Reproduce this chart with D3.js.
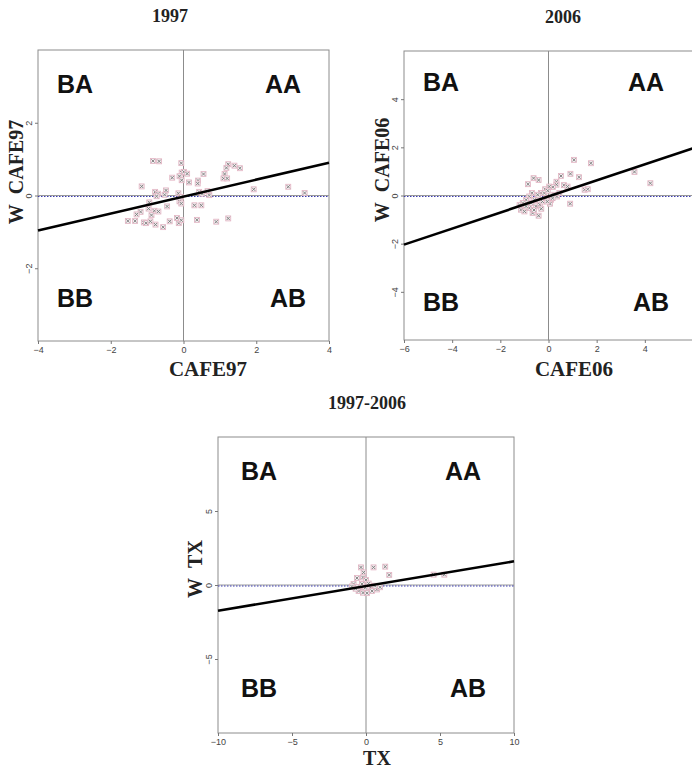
<!DOCTYPE html>
<html>
<head>
<meta charset="utf-8">
<script src="https://cdn.jsdelivr.net/npm/d3@7"></script>
<style>
  body { margin: 0; background: #fff; }
  svg { display: block; }
</style>
</head>
<body>
<svg id="chart" width="692" height="770"></svg>
<script>
// ---- data ----
const quadrants = ["BA", "AA", "BB", "AB"];

// 1997
const cafe97 = [-0.84,-0.67,-0.06,-0.05,0.01,0.1,-0.11,-0.31,-0.05,0.15,0.55,0.40,0.39,1.23,1.40,1.55,1.18,1.13,1.10,1.20,-1.15,1.93,2.88,3.33,-0.78,-0.70,-0.48,-0.52,-0.14,-0.07,-0.11,-0.06,0.43,0.51,0.71,0.66,-0.74,-0.94,-0.45,-0.96,-0.80,-0.69,0.30,0.49,-1.18,-1.29,-1.33,-1.53,-1.09,-1.03,-0.88,-0.77,-0.56,-0.38,-0.18,-0.13,-0.06,0.37,0.90,1.23,-0.91];
const wCafe97 = [0.95,0.94,0.89,0.63,0.65,0.6,0.53,0.49,0.42,0.36,0.59,0.41,0.33,0.86,0.82,0.75,0.76,0.59,0.47,0.47,0.25,0.17,0.24,0.07,0.10,0.05,0.14,0.02,0.06,-0.04,-0.16,-0.22,0.10,0.05,0.01,0.12,-0.02,-0.19,-0.30,-0.36,-0.42,-0.44,-0.27,-0.27,-0.45,-0.52,-0.70,-0.70,-0.74,-0.76,-0.54,-0.80,-0.87,-0.71,-0.62,-0.76,-0.68,-0.67,-0.72,-0.63,-0.71];
const fit97 = [[-4, -0.96], [4, 0.90]];
const xTicks97 = [-4, -2, 0, 2, 4];
const yTicks97 = [-2, 0, 2];

// 2006
const cafe06 = [1.06,1.76,3.57,4.23,0.52,0.91,1.27,-0.62,-0.41,-0.85,0.33,0.33,0.18,0.03,-0.14,0.64,0.79,1.50,1.63,0.90,-0.31,-0.45,-0.69,-0.80,-0.93,-1.07,-1.14,-1.00,-0.80,-0.66,-0.41,-0.52,-0.36,-0.25,-0.11,0.10,0.06,0.24,0.35,0.17,-0.93,-0.72,-0.58,-0.17,-0.03,-1.20,-0.60,-0.30,0.45,-0.05];
const wCafe06 = [1.48,1.34,0.98,0.51,0.81,0.90,0.76,0.72,0.64,0.47,0.57,0.45,0.35,0.37,0.26,0.43,0.37,0.24,0.26,-0.34,0.10,0.03,0.10,-0.04,-0.18,-0.31,-0.59,-0.66,-0.52,-0.73,-0.84,-0.45,-0.38,-0.25,-0.11,-0.18,-0.34,0.03,-0.04,-0.11,-0.45,-0.31,-0.18,0.10,0.20,-0.40,-0.60,-0.55,0.10,-0.25];
const fit06 = [[-6, -2.04], [6, 1.96]];
const xTicks06 = [-6, -4, -2, 0, 2, 4];
const yTicks06 = [-4, -2, 0, 2, 4];

// 1997-2006
const tx = [-0.34,0.51,1.30,1.57,-0.16,-0.20,-0.61,0,4.57,5.29,-0.84,-0.61,-0.39,-0.16,0.07,0.29,0.52,0.18,-0.27,-0.05,0.74,-0.50,0.41,-0.20,0.07,-0.95,0.95,-0.70,0.60];
const wTx = [1.19,1.19,1.24,0.68,0.85,0.51,0.47,0.34,0.70,0.70,0.07,-0.14,-0.30,-0.41,-0.36,-0.18,-0.07,0.10,0.07,-0.18,-0.30,-0.41,-0.41,-0.52,-0.55,-0.10,-0.15,-0.25,-0.05];
const fitTx = [[-10, -1.74], [10, 1.60]];
const xTicksTx = [-10, -5, 0, 5, 10];
const yTicksTx = [-5, 0, 5];

const svg = d3.select("#chart");

function drawPanel(p) {
  const g = svg.append("g").attr("transform", `translate(${p.left},${p.top})`);
  const x = d3.scaleLinear().domain(p.dom).range([0, p.size]);
  const y = d3.scaleLinear().domain(p.dom).range([p.size, 0]);

  // title
  svg.append("text")
    .attr("x", p.titleX).attr("y", p.top - 28)
    .attr("text-anchor", "middle")
    .style("font", "bold 18px 'Liberation Serif', 'Times New Roman', serif")
    .style("fill", "#222")
    .text(p.title);

  // frame
  g.append("rect")
    .attr("width", p.size).attr("height", p.size)
    .attr("fill", "none").attr("stroke", "#8c8c8c").attr("stroke-width", 1);

  // bottom axis
  const xa = g.append("g").attr("transform", `translate(0,${p.size})`)
    .call(d3.axisBottom(x).tickValues(p.xTicks).tickSize(3).tickSizeOuter(0));
  xa.select(".domain").remove();
  xa.selectAll("line").attr("stroke", "#777");
  xa.selectAll("text").attr("y", 5).attr("dy", "0.75em")
    .style("font", "9px 'Liberation Sans', Arial, sans-serif").style("fill", "#444");

  // left axis, labels rotated
  const ya = g.append("g")
    .call(d3.axisLeft(y).tickValues(p.yTicks).tickSize(3).tickSizeOuter(0));
  ya.select(".domain").remove();
  ya.selectAll("line").attr("stroke", "#777");
  ya.selectAll("text")
    .attr("x", null).attr("dy", null)
    .attr("text-anchor", "middle")
    .attr("transform", "translate(-6,0) rotate(-90)")
    .style("font", "9px 'Liberation Sans', Arial, sans-serif").style("fill", "#444");

  // zero lines
  g.append("line")
    .attr("x1", x(0)).attr("x2", x(0)).attr("y1", 0).attr("y2", p.size)
    .attr("stroke", "#8c8c8c").attr("stroke-width", 1);
  g.append("line")
    .attr("x1", 0).attr("x2", p.size).attr("y1", y(0)).attr("y2", y(0))
    .attr("stroke", "#9a9a9a").attr("stroke-width", 1);
  g.append("line")
    .attr("x1", 0).attr("x2", p.size).attr("y1", y(0) + 1).attr("y2", y(0) + 1)
    .attr("stroke", "#3a3ab0").attr("stroke-width", 1).attr("stroke-dasharray", "1.5,1.5");

  // points
  const pts = p.xs.map((v, i) => ({ x: v, y: p.ys[i] }));
  const m = g.selectAll(".pt").data(pts).enter().append("g")
    .attr("class", "pt")
    .attr("transform", d => `translate(${x(d.x)},${y(d.y)})`);
  m.append("rect").attr("x", -2.5).attr("y", -2.5).attr("width", 5).attr("height", 5)
    .attr("fill", "#f2eef0").attr("stroke", "#e3b3c2").attr("stroke-width", 0.8);
  m.append("path").attr("d", "M-1.6,-1.6L1.6,1.6M-1.6,1.6L1.6,-1.6")
    .attr("stroke", "#7a7a7a").attr("stroke-width", 0.9);

  // fit line
  g.append("path")
    .datum(p.fit)
    .attr("d", d3.line().x(d => x(d[0])).y(d => y(d[1])))
    .attr("stroke", "#000").attr("stroke-width", 2.6).attr("fill", "none");

  // quadrant labels
  const qPos = [[p.qL, p.qT], [p.qR, p.qT], [p.qL, p.qB], [p.qR2, p.qB]];
  quadrants.forEach((q, i) => {
    g.append("text")
      .attr("x", qPos[i][0]).attr("y", qPos[i][1])
      .style("font", "bold 25px 'Liberation Sans', Arial, sans-serif")
      .style("fill", "#111")
      .text(q);
  });

  // axis titles
  svg.append("text")
    .attr("x", p.xLabX).attr("y", p.xLabY)
    .attr("text-anchor", "middle")
    .style("font", `bold ${p.xLabSize}px 'Liberation Serif', 'Times New Roman', serif`)
    .style("fill", "#222")
    .text(p.xLab);
  svg.append("text")
    .attr("transform", `translate(${p.yLabX},${p.yLabY}) rotate(-90)`)
    .attr("text-anchor", "middle")
    .style("font", "bold 20px 'Liberation Serif', 'Times New Roman', serif")
    .style("fill", "#222")
    .text(p.yLab);
}

drawPanel({ left: 38, top: 50, size: 291, dom: [-4, 4], xs: cafe97, ys: wCafe97, fit: fit97,
  xTicks: xTicks97, yTicks: yTicks97, title: "1997", titleX: 170,
  qL: 19, qR: 227, qR2: 232, qT: 43, qB: 257,
  xLab: "CAFE97", xLabX: 208, xLabY: 376, xLabSize: 21,
  yLab: "W\u00A0\u00A0CAFE97", yLabX: 23, yLabY: 172 });

drawPanel({ left: 404, top: 51, size: 289, dom: [-6, 6], xs: cafe06, ys: wCafe06, fit: fit06,
  xTicks: xTicks06, yTicks: yTicks06, title: "2006", titleX: 563,
  qL: 19, qR: 224, qR2: 229, qT: 40, qB: 260,
  xLab: "CAFE06", xLabX: 574, xLabY: 376, xLabSize: 21,
  yLab: "W\u00A0\u00A0CAFE06", yLabX: 389, yLabY: 170 });

drawPanel({ left: 218, top: 437, size: 296, dom: [-10, 10], xs: tx, ys: wTx, fit: fitTx,
  xTicks: xTicksTx, yTicks: yTicksTx, title: "1997-2006", titleX: 367,
  qL: 23, qR: 227, qR2: 232, qT: 43, qB: 260,
  xLab: "TX", xLabX: 377, xLabY: 765, xLabSize: 20,
  yLab: "W\u00A0\u00A0TX", yLabX: 202, yLabY: 569 });
</script>
</body>
</html>
